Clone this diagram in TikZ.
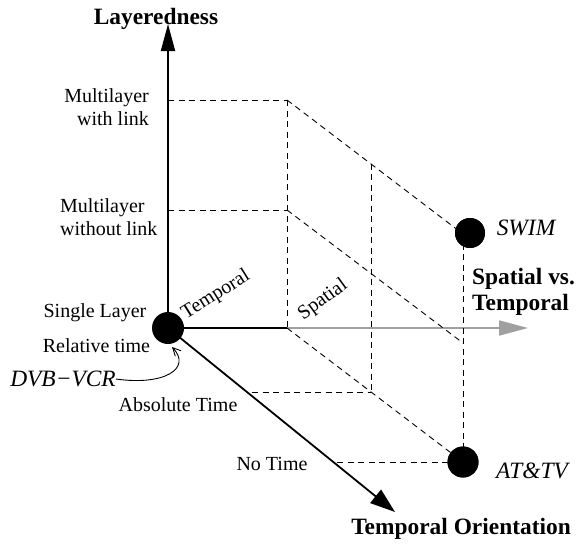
\documentclass[tikz,border=0pt]{standalone}
\usepackage{fontspec}
\setmainfont{Liberation Serif}
\usetikzlibrary{arrows.meta}
\definecolor{axgray}{RGB}{160,160,160}
\begin{document}
\begin{tikzpicture}[x=1pt,y=-1pt,
  lab/.style={font=\fontsize{20}{23.5}\selectfont, inner sep=0pt},
  bigl/.style={font=\fontsize{23.4}{26}\selectfont\bfseries, inner sep=0pt},
  ital/.style={font=\fontsize{23.4}{26}\selectfont\itshape, inner sep=0pt},
  axisline/.style={line width=1.8pt},
  guide/.style={line width=0.9pt, dash pattern=on 6pt off 4.5pt},
  blob/.style={circle, fill=black, minimum size=#1, inner sep=0pt},
]
\useasboundingbox (0,0) rectangle (577,543);

% coordinates
\coordinate (O) at (168,328);
\coordinate (ytip) at (168,24);
\coordinate (ttip) at (395,512);
\coordinate (stip) at (528,328);
\coordinate (yA) at (168,100);
\coordinate (yB) at (168,210);
\coordinate (fA) at (287,100);
\coordinate (fB) at (287,210);
\coordinate (fC) at (287,328);
\coordinate (bA) at (463,234);
\coordinate (bB) at (463,343);
\coordinate (mA) at (371,163.5);
\coordinate (mC) at (371,392);
\coordinate (tA) at (252,392);
\coordinate (tB) at (337,462);

% axes
\draw[axisline, -{Triangle[length=27pt,width=14pt]}] (O) -- (ytip);
\draw[axisline, -{Triangle[length=25pt,width=17pt]}] (O) -- (ttip);
\draw[axisline] (O) -- (fC);
\draw[axisline, axgray, -{Triangle[length=29pt,width=15pt]}] (fC) -- (stip);

% dots
\node[blob=32pt] (d0) at (O) {};
\node[blob=30pt] (swim) at (470,233) {};
\node[blob=31pt] (attv) at (463,462) {};

% dashed guides
\draw[guide] (yA) -- (fA);
\draw[guide] (yB) -- (fB);
\draw[guide] (fA) -- (fC);
\draw[guide] (fA) -- (bA);
\draw[guide] (fB) -- (bB);
\draw[guide] (fC) -- (attv.center);
\draw[guide] (mA) -- (mC);
\draw[guide] (tA) -- (mC);
\draw[guide] (tB) -- (attv.center);
\draw[guide] (swim.center -| bA) -- (attv.center);
\node[blob=30pt] at (swim) {};
\node[blob=31pt] at (attv) {};

% labels
\node[bigl] (lLay) at (156,19) {Layeredness};
\node[lab, align=right, anchor=east] (lMwl) at (149,107) {Multilayer\\with link};
\node[lab, align=left, anchor=west] (lMwo) at (60,217) {Multilayer\\without link};
\node[lab] (lSL) at (95,313) {Single Layer};
\node[lab] (lRT) at (96.5,346) {Relative time};
\node[ital] (lDVB) at (63,379) {DVB−VCR};
\node[lab] (lAT) at (178,405) {Absolute Time};
\node[lab] (lNT) at (272,464) {No Time};
\node[lab, rotate=32] (lTemp) at (216,295) {Temporal};
\node[lab, rotate=36] (lSpat) at (323,300) {Spatial};
\node[bigl, align=left, anchor=west] (lSvT) at (472,292) {Spatial vs.\\Temporal};
\node[ital] (lSWIM) at (526,228) {SWIM};
\node[ital] (lATTV) at (532,471) {AT\&TV};
\node[bigl] (lTO) at (461,529) {Temporal Orientation};

% DVB-VCR pointer
\draw[line width=0.9pt, -{Straight Barb[length=8pt,width=8pt]}] (lDVB.east) .. controls (165,386) and (192,368) .. (172,347);
\end{tikzpicture}
\end{document}
